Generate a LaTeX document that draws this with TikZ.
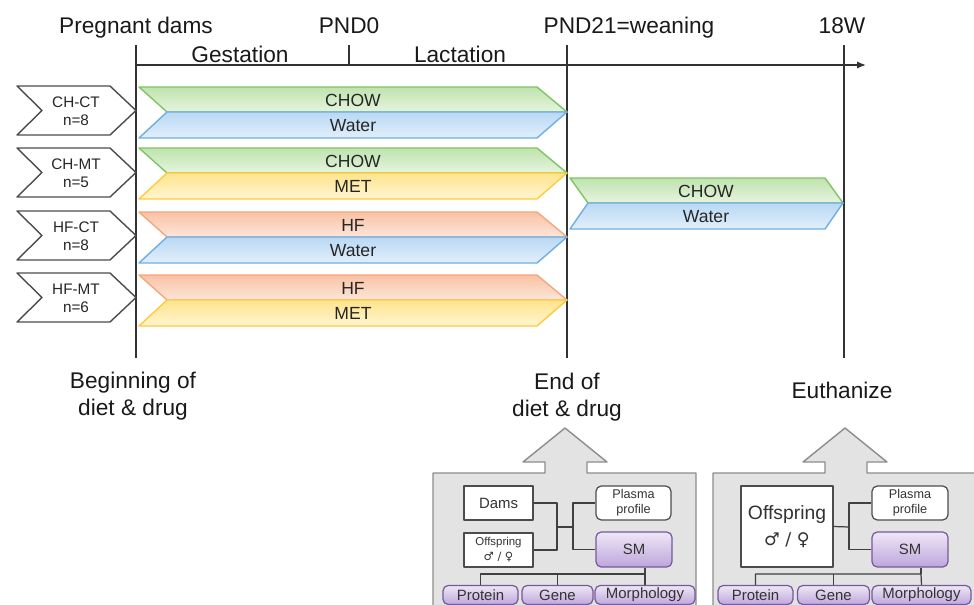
\documentclass[tikz,border=0pt]{standalone}
\usepackage{fontspec}
\setmainfont{Liberation Sans}
\newfontfamily\symfont{DejaVu Sans}
\usetikzlibrary{arrows.meta}

% band colours: line, top and bottom of the shading
\definecolor{greenline}{HTML}{80C464}
\definecolor{greentop}{HTML}{BFE3AE}
\definecolor{greenbot}{HTML}{E6F4DE}
\definecolor{blueline}{HTML}{6FAEE2}
\definecolor{bluetop}{HTML}{B9D8F4}
\definecolor{bluebot}{HTML}{E2EFFB}
\definecolor{yellowline}{HTML}{FFCB3D}
\definecolor{yellowtop}{HTML}{FFE48C}
\definecolor{yellowbot}{HTML}{FFF5D2}
\definecolor{orangeline}{HTML}{F6A67C}
\definecolor{orangetop}{HTML}{F9C2A4}
\definecolor{orangebot}{HTML}{FDE6DA}
\definecolor{smline}{HTML}{76599A}
\definecolor{smtop}{HTML}{EEE7F6}
\definecolor{smbot}{HTML}{BEA6DC}

\begin{document}
\begin{tikzpicture}[x=0.02cm, y=-0.02cm, line join=round,
    axisline/.style={draw=black!80, line width=0.8pt},
    grpshape/.style={draw=black!70, fill=white, line width=0.8pt},
    grplabel/.style={align=center, inner sep=0pt, text=black!85,
      font=\fontsize{8.7}{10.2}\selectfont},
    bandtext/.style={inner sep=0pt, text=black!85, font=\fontsize{10}{12}\selectfont},
    toplabel/.style={anchor=base, inner sep=0pt, text=black!90, font=\fontsize{12.9}{15}\selectfont},
    steplabel/.style={align=center, inner sep=0pt, text=black!90, font=\fontsize{12.9}{15.2}\selectfont},
    panel/.style={draw=black!45, fill=black!11, line width=0.8pt},
    plainbox/.style={draw=black!70, fill=white, inner sep=0pt, line width=0.7pt,
      align=center, text=black!80},
    roundbox/.style={plainbox, rounded corners=3pt},
    purplebox/.style={roundbox, draw=smline, top color=smtop, bottom color=smbot},
    link/.style={draw=black!75, line width=0.7pt}]

  \useasboundingbox (0,0) rectangle (974,605);
  \clip (0,0) rectangle (974,605);

  % Time axis
  \draw[axisline, -{Latex[length=5pt, width=4pt]}] (136,65) -- (866,65);
  \draw[axisline] (136,45) -- (136,358);
  \draw[axisline] (349,45) -- (349,65);
  \draw[axisline] (567,45) -- (567,358);
  \draw[axisline] (844,45) -- (844,358);

  \node[toplabel] (dams-t) at (136,33) {Pregnant dams};
  \node[toplabel] (pnd0) at (349,33) {PND0};
  \node[toplabel] (pnd21) at (629,33) {PND21=weaning};
  \node[toplabel] (w18) at (842,33) {18W};
  \node[toplabel] (gest) at (240,62) {Gestation};
  \node[toplabel] (lact) at (460,62) {Lactation};

  % Groups
  \foreach \t/\grp/\n in {86/CH-CT/8, 148/CH-MT/5, 211/HF-CT/8, 273/HF-MT/6}{
    \draw[grpshape] (17,\t) -- (110,\t) -- (136,\t+24.5) -- (110,\t+49)
      -- (17,\t+49) -- (42,\t+24.5) -- cycle;
    \node[grplabel] (g-\grp) at (76,\t+25) {\grp\\n=\n};
  }

  % Diet and drug bands up to weaning
  \foreach \t/\diet/\drug/\dtxt/\wtxt in {87/green/blue/CHOW/Water,
      148/green/yellow/CHOW/MET, 212/orange/blue/HF/Water, 275/orange/yellow/HF/MET}{
    \path[draw=\diet line, top color=\diet top, bottom color=\diet bot, line width=0.8pt]
      (139,\t) -- (537,\t) -- (567,\t+25) -- (167,\t+25) -- cycle;
    \path[draw=\drug line, top color=\drug top, bottom color=\drug bot, line width=0.8pt]
      (167,\t+25) -- (567,\t+25) -- (537,\t+51) -- (139,\t+51) -- cycle;
    \node[bandtext] (d\t) at (353,\t+13.5) {\dtxt};
    \node[bandtext] (w\t) at (353,\t+38.5) {\wtxt};
  }

  % After weaning
  \path[draw=greenline, top color=greentop, bottom color=greenbot, line width=0.8pt]
    (570,178) -- (825,178) -- (843,203) -- (588,203) -- cycle;
  \path[draw=blueline, top color=bluetop, bottom color=bluebot, line width=0.8pt]
    (588,203) -- (843,203) -- (825,229) -- (570,229) -- cycle;
  \node[bandtext] (chow2) at (706,191.5) {CHOW};
  \node[bandtext] (water2) at (706,216.5) {Water};

  % Time points
  \node[steplabel] (begin) at (133,396) {Beginning of\\diet \& drug};
  \node[steplabel] (end) at (567,397) {End of\\diet \& drug};
  \node[toplabel] (euth) at (842,398) {Euthanize};

  % Left panel: end of diet & drug
  \draw[panel] (433,615) -- (433,473) -- (545,473) -- (545,462) -- (523,462) -- (565,428)
    -- (607,462) -- (587,462) -- (587,473) -- (696,473) -- (696,615);

  \node[plainbox, minimum width=1.38cm, minimum height=0.68cm,
    font=\fontsize{8.5}{10}\selectfont] (dams) at (498.5,503) {Dams};
  \node[plainbox, minimum width=1.38cm, minimum height=0.68cm,
    font=\fontsize{6.5}{8.5}\selectfont] (offs1) at (498.5,550) {Offspring\\{\symfont ♂ / ♀}};
  \node[roundbox, minimum width=1.5cm, minimum height=0.68cm,
    font=\fontsize{7.2}{8.6}\selectfont] (plasma1) at (633.5,503) {Plasma\\profile};
  \node[purplebox, minimum width=1.52cm, minimum height=0.7cm,
    font=\fontsize{8.5}{10}\selectfont] (sm1) at (634,549.5) {SM};
  \node[purplebox, minimum width=1.5cm, minimum height=0.38cm,
    font=\fontsize{8.5}{10}\selectfont] (prot1) at (480.5,595) {Protein};
  \node[purplebox, minimum width=1.42cm, minimum height=0.38cm,
    font=\fontsize{8.5}{10}\selectfont] (gene1) at (557.5,595) {Gene};
  \node[purplebox, minimum width=2.0cm, minimum height=0.38cm,
    font=\fontsize{8.5}{10}\selectfont] (morph1) at (645,595) {Morphology};

  \coordinate (j1) at (557,527);
  \coordinate (j2) at (573,527);
  \coordinate (b1) at (645,574);
  \draw[link] (dams.east) -| (j1) |- (offs1.east);
  \draw[link] (j1) -- (j2);
  \draw[link] (plasma1.west) -| (j2) |- (sm1.west);
  \draw[link] (prot1.north) |- (b1) -- (morph1.north);
  \draw[link] (gene1.north) -- (gene1.north |- b1);
  \draw[link] (sm1.south -| b1) -- (b1);

  % Right panel: euthanize
  \draw[panel] (713,615) -- (713,473) -- (825,473) -- (825,462) -- (803,462) -- (845,428)
    -- (887,462) -- (867,462) -- (867,473) -- (985,473) -- (985,615);

  \node[plainbox, minimum width=1.84cm, minimum height=1.62cm,
    font=\fontsize{11}{15}\selectfont] (offs2) at (787,526.5) {Offspring\\{\symfont\fontsize{10}{12}\selectfont ♂ / ♀}};
  \node[roundbox, minimum width=1.52cm, minimum height=0.68cm,
    font=\fontsize{7.2}{8.6}\selectfont] (plasma2) at (910,503) {Plasma\\profile};
  \node[purplebox, minimum width=1.52cm, minimum height=0.7cm,
    font=\fontsize{8.5}{10}\selectfont] (sm2) at (910,549.5) {SM};
  \node[purplebox, minimum width=1.5cm, minimum height=0.38cm,
    font=\fontsize{8.5}{10}\selectfont] (prot2) at (755.5,595) {Protein};
  \node[purplebox, minimum width=1.44cm, minimum height=0.38cm,
    font=\fontsize{8.5}{10}\selectfont] (gene2) at (833.5,595) {Gene};
  \node[purplebox, minimum width=1.98cm, minimum height=0.38cm,
    font=\fontsize{8.5}{10}\selectfont] (morph2) at (921.5,595) {Morphology};

  \coordinate (j3) at (849,527);
  \coordinate (b2) at (921,574);
  \draw[link] (offs2.east) -- (j3);
  \draw[link] (plasma2.west) -| (j3) |- (sm2.west);
  \draw[link] (prot2.north) |- (b2) -- (morph2.north);
  \draw[link] (gene2.north) -- (gene2.north |- b2);
  \draw[link] (sm2.south -| b2) -- (b2);

\end{tikzpicture}
\end{document}
